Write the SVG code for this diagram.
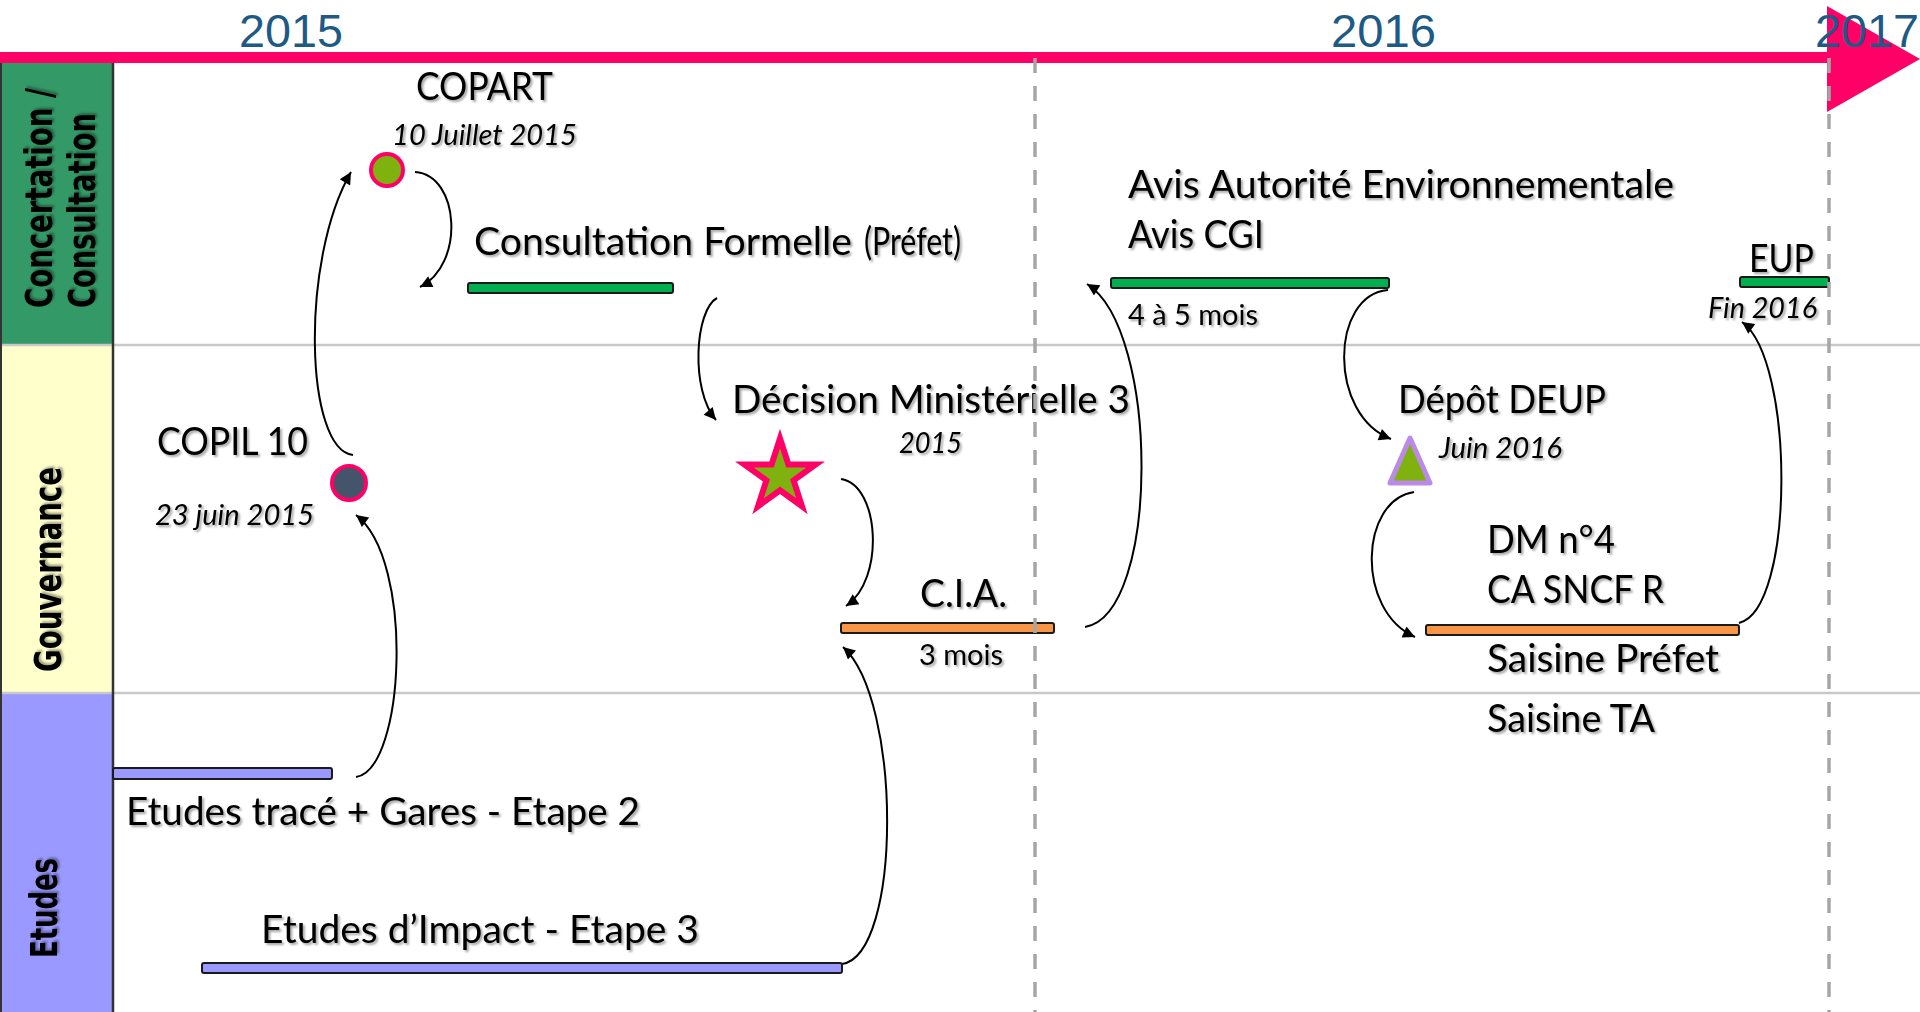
<svg xmlns="http://www.w3.org/2000/svg" width="1920" height="1012" viewBox="0 0 1920 1012">
<defs>
  <filter id="sh" x="-10%" y="-20%" width="130%" height="160%">
    <feDropShadow dx="2" dy="2" stdDeviation="1.2" flood-color="#000" flood-opacity="0.35"/>
  </filter>
  <marker id="ah" viewBox="0 0 10 10" refX="10" refY="5" markerWidth="15" markerHeight="12" markerUnits="userSpaceOnUse" orient="auto">
    <path d="M0,0 L10,5 L0,10 z" fill="#000"/>
  </marker>
  <style>
    .lbl{font-family:Lato,"Open Sans","Liberation Sans",sans-serif;font-size:38px;fill:#000;filter:url(#sh)}
    .sm{font-size:28px}
    .it{font-style:italic;font-size:28px}
    .yr{font-family:"Liberation Sans",Arial,sans-serif;font-size:47px;fill:#1D5A85}
    .lane{font-family:"DejaVu Sans",Verdana,sans-serif;font-weight:bold;font-size:37px;fill:#000;filter:url(#sh)}
    .bar{stroke:#1a1a1a;stroke-width:2}
    .g{fill:#00B050}.o{fill:#F79646}.p{fill:#9999FF}
    .con{fill:none;stroke:#000;stroke-width:2;marker-end:url(#ah)}
    .dash{stroke:#A6A6A6;stroke-width:3.5;stroke-dasharray:15 13}
  </style>
</defs>
<rect width="1920" height="1012" fill="#fff"/>

<g id="lanes">
  <rect x="0" y="63" width="113" height="282" fill="#339966"/>
  <rect x="0" y="345" width="113" height="348" fill="#FFFFCC"/>
  <rect x="0" y="693" width="113" height="319" fill="#9999FF"/>
  <line x1="0" y1="345" x2="1920" y2="345" stroke="#C8C8C8" stroke-width="2.5"/>
  <line x1="0" y1="693" x2="1920" y2="693" stroke="#C8C8C8" stroke-width="2.5"/>
  <line x1="113" y1="63" x2="113" y2="1012" stroke="#333" stroke-width="2.5"/>
  <line x1="1" y1="63" x2="1" y2="1012" stroke="#333" stroke-width="2"/>
  <text class="lane" transform="translate(52,308) rotate(-90)" textLength="220" lengthAdjust="spacingAndGlyphs">Concertation /</text>
  <text class="lane" transform="translate(95,308) rotate(-90)" textLength="195" lengthAdjust="spacingAndGlyphs">Consultation</text>
  <text class="lane" transform="translate(61,672) rotate(-90)" textLength="205" lengthAdjust="spacingAndGlyphs">Gouvernance</text>
  <text class="lane" transform="translate(57,958) rotate(-90)" textLength="100" lengthAdjust="spacingAndGlyphs">Etudes</text>
</g>

<g id="timeline">
  <rect x="0" y="52" width="1830" height="11" fill="#FF0066"/>
  <polygon points="1827,6 1920,59 1827,112" fill="#FF0066"/>
</g>

<g id="connectors">
  <path class="con" d="M353,455 C305,450 300,260 351,172"/>
  <path class="con" d="M415,172 C460,175 465,265 420,287"/>
  <path class="con" d="M717,298 C695,310 690,390 716,420"/>
  <path class="con" d="M841,479 C880,485 885,580 846,606"/>
  <path class="con" d="M356,777 C405,770 415,560 356,515"/>
  <path class="con" d="M842,964 C902,955 902,700 843,647"/>
  <path class="con" d="M1085,627 C1160,615 1160,330 1087,284"/>
  <path class="con" d="M1388,290 C1330,295 1328,415 1391,439"/>
  <path class="con" d="M1414,492 C1360,500 1355,610 1415,637"/>
  <path class="con" d="M1739,623 C1795,610 1795,360 1742,322"/>
</g>

<g id="copart">
  <circle cx="387" cy="170" r="16" fill="#7FB20E" stroke="#FF0066" stroke-width="4"/>
  <text class="lbl" x="416" y="100" textLength="137" lengthAdjust="spacingAndGlyphs">COPART</text>
  <text class="lbl it" x="392" y="145" textLength="185" lengthAdjust="spacingAndGlyphs">10 Juillet 2015</text>
</g>

<g id="consultation">
  <rect class="bar g" x="468" y="283" width="205" height="10" rx="2"/>
  <text class="lbl" x="474" y="255" textLength="378" lengthAdjust="spacingAndGlyphs">Consultation Formelle</text>
  <text class="lbl" x="864" y="255" font-size="27" textLength="97" lengthAdjust="spacingAndGlyphs">(Préfet)</text>
</g>

<g id="avis">
  <rect class="bar g" x="1111" y="278" width="278" height="10" rx="2"/>
  <text class="lbl" x="1128" y="198" textLength="546" lengthAdjust="spacingAndGlyphs">Avis Autorité Environnementale</text>
  <text class="lbl" x="1128" y="248" textLength="136" lengthAdjust="spacingAndGlyphs">Avis CGI</text>
  <text class="lbl sm" x="1128" y="325" textLength="130" lengthAdjust="spacingAndGlyphs">4 à 5 mois</text>
</g>

<g id="eup">
  <rect class="bar g" x="1740" y="277" width="89" height="10" rx="2"/>
  <text class="lbl" x="1749" y="272" font-size="34" textLength="65" lengthAdjust="spacingAndGlyphs">EUP</text>
  <text class="lbl it" x="1708" y="318" textLength="109" lengthAdjust="spacingAndGlyphs">Fin 2016</text>
</g>

<g id="copil">
  <circle cx="349" cy="483" r="17" fill="#44546A" stroke="#FF0066" stroke-width="4"/>
  <text class="lbl" x="157" y="455" textLength="151" lengthAdjust="spacingAndGlyphs">COPIL 10</text>
  <text class="lbl it" x="155" y="525" textLength="159" lengthAdjust="spacingAndGlyphs">23 juin 2015</text>
</g>

<g id="decision">
  <polygon points="780,438.5 788.4,464.4 815.7,464.4 793.6,480.4 802,506.3 780,490.3 758,506.3 766.4,480.4 744.3,464.4 771.6,464.4" fill="#7FB20E" stroke="#FF0066" stroke-width="6"/>
  <text class="lbl" x="732" y="413" textLength="398" lengthAdjust="spacingAndGlyphs">Décision Ministérielle 3</text>
  <text class="lbl it" x="899" y="453" textLength="63" lengthAdjust="spacingAndGlyphs">2015</text>
</g>

<g id="cia">
  <rect class="bar o" x="841" y="623" width="213" height="10" rx="2"/>
  <text class="lbl" x="920" y="607" textLength="87" lengthAdjust="spacingAndGlyphs">C.I.A.</text>
  <text class="lbl sm" x="919" y="665" textLength="84" lengthAdjust="spacingAndGlyphs">3 mois</text>
</g>

<g id="depot">
  <polygon points="1410,438 1430,483 1390,483" fill="#7FB20E" stroke="#BB8AE6" stroke-width="5" stroke-linejoin="round"/>
  <text class="lbl" x="1398" y="413" textLength="208" lengthAdjust="spacingAndGlyphs">Dépôt DEUP</text>
  <text class="lbl it" x="1439" y="458" textLength="123" lengthAdjust="spacingAndGlyphs">Juin 2016</text>
</g>

<g id="dm4">
  <rect class="bar o" x="1426" y="625" width="313" height="10" rx="2"/>
  <text class="lbl" x="1487" y="553" textLength="128" lengthAdjust="spacingAndGlyphs">DM n°4</text>
  <text class="lbl" x="1487" y="603" textLength="177" lengthAdjust="spacingAndGlyphs">CA SNCF R</text>
  <text class="lbl" x="1487" y="672" textLength="232" lengthAdjust="spacingAndGlyphs">Saisine Préfet</text>
  <text class="lbl" x="1487" y="732" textLength="168" lengthAdjust="spacingAndGlyphs">Saisine TA</text>
</g>

<g id="etudes-trace">
  <rect class="bar p" x="113" y="768" width="219" height="11" rx="2"/>
  <text class="lbl" x="126" y="825" textLength="514" lengthAdjust="spacingAndGlyphs">Etudes tracé + Gares - Etape 2</text>
</g>

<g id="etudes-impact">
  <rect class="bar p" x="202" y="963" width="640" height="10" rx="2"/>
  <text class="lbl" x="261" y="943" textLength="438" lengthAdjust="spacingAndGlyphs">Etudes d’Impact - Etape 3</text>
</g>

<g id="grid">
  <line class="dash" x1="1035" y1="58" x2="1035" y2="1012"/>
  <line class="dash" x1="1829" y1="58" x2="1829" y2="1012"/>
</g>

<g id="years">
  <text class="yr" x="239" y="47" textLength="104" lengthAdjust="spacingAndGlyphs">2015</text>
  <text class="yr" x="1331" y="47" textLength="105" lengthAdjust="spacingAndGlyphs">2016</text>
  <text class="yr" x="1815" y="47" textLength="104" lengthAdjust="spacingAndGlyphs">2017</text>
</g>
</svg>
